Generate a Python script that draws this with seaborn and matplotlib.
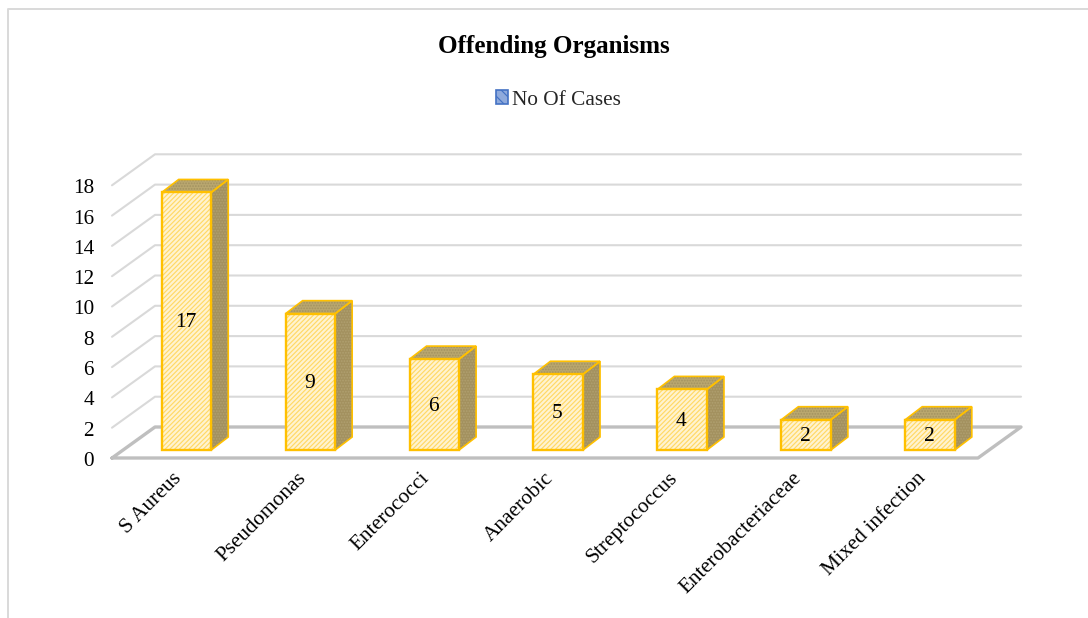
import matplotlib
matplotlib.use("Agg")
import matplotlib.pyplot as plt
from matplotlib.lines import Line2D
from matplotlib.patches import Patch, Polygon, Rectangle
from matplotlib.transforms import Affine2D, IdentityTransform
import pandas as pd
import seaborn as sns

organisms = ["S Aureus", "Pseudomonas", "Enterococci", "Anaerobic",
             "Streptococcus", "Enterobacteriaceae", "Mixed infection"]
cases = [17, 9, 6, 5, 4, 2, 2]
y_ticks = [0, 2, 4, 6, 8, 10, 12, 14, 16, 18]

W, H = 1088, 618
sns.set_theme(style="white")
plt.rcParams["font.family"] = ["Liberation Serif", "DejaVu Serif"]
plt.rcParams["hatch.linewidth"] = 0.85

df = pd.DataFrame({"organism": organisms, "cases": cases})

fig = plt.figure(figsize=(W / 100, H / 100), dpi=100)
# axes box = front face of the bars, everything 3D hangs off it in pixels
ax = fig.add_axes([124.5 / W, (H - 450) / H, 867.5 / W, 272.7 / H])
ax.patch.set_visible(False)

# edge colour here only tints the hatch, the outline comes later
sns.barplot(data=df, x="organism", y="cases", ax=ax, color="#FFF3D0",
            saturation=1, width=0.4, edgecolor="#FFD966", linewidth=0, zorder=3)
ax.set_xlim(-0.5, 6.5)
ax.set_ylim(0, 18)
ax.set_xlabel("")
ax.set_ylabel("")
sns.despine(ax=ax, left=True, bottom=True)

px = IdentityTransform()
grid_col = "#D9D9D9"
floor_col = "#BFBFBF"
gold = "#FFC000"

# walls and floor
for v in y_ticks:
    y = ax.transData.transform((0, v))[1]
    pts = [(112, y - 8), (155, y + 23), (1021, y + 23)]
    if v == 0:
        pts = pts + [(978, y - 8), (112, y - 8)]
    ax.add_line(Line2D([p[0] for p in pts], [p[1] for p in pts], transform=px,
                       color=floor_col if v == 0 else grid_col,
                       lw=2.4 if v == 0 else 1.5, clip_on=False, zorder=1))


def face(pts, fill, speck, hatch):
    ax.add_patch(Polygon(pts, closed=True, transform=px, facecolor=fill, edgecolor=speck,
                         hatch=hatch, lw=0, clip_on=False, zorder=2))
    ax.add_patch(Polygon(pts, closed=True, transform=px, fill=False, edgecolor=gold,
                         lw=1.2, clip_on=False, zorder=2.5))


# side and top of every bar
dx, dy = 17, 13
for bar in ax.containers[0]:
    bar.set_hatch("///////")
    ax.add_patch(Rectangle(bar.get_xy(), bar.get_width(), bar.get_height(), fill=False,
                           edgecolor=gold, lw=1.7, clip_on=False, zorder=4))
    x0, y0 = ax.transData.transform((bar.get_x(), bar.get_y()))
    x1, y1 = ax.transData.transform((bar.get_x() + bar.get_width(), bar.get_height()))
    face([(x1, y0), (x1 + dx, y0 + dy), (x1 + dx, y1 + dy), (x1, y1)], "#A3915F", "#B0A070", "......")
    face([(x0, y1), (x0 + dx, y1 + dy), (x1 + dx, y1 + dy), (x1, y1)], "#B9A76F", "#A39260", "......")

for t in ax.bar_label(ax.containers[0], label_type="center", fontsize=15.5, color="black", zorder=5):
    t.xyann = (-0.7, -1.2)

ax.set_yticks(y_ticks)
ax.tick_params(axis="y", length=0, pad=22, labelsize=15.3, labelcolor="black")
ax.tick_params(axis="x", length=0, pad=13.5, labelsize=15.4, labelcolor="black")
for lab in ax.get_yticklabels():
    lab.set_transform(lab.get_transform() + Affine2D().translate(0, -9))
for lab in ax.get_xticklabels():
    lab.set_rotation(45)
    lab.set_ha("right")
    lab.set_rotation_mode("anchor")
    lab.set_transform(lab.get_transform() + Affine2D().translate(-14, 0))

fig.text(554 / W, 1 - 46 / H, "Offending Organisms", ha="center", va="center",
         fontsize=18.1, fontweight="bold", color="black")

handle = Patch(facecolor="#8FAADC", edgecolor="#4472C4", hatch="\\\\\\", lw=1.2, label="No Of Cases")
fig.legend(handles=[handle], loc="center", bbox_to_anchor=(558 / W, 1 - 100 / H), frameon=False,
           fontsize=15.3, handlelength=0.6, handleheight=0.6, handletextpad=0.15)

# chart border: only top and left show, both run off the picture
fig.add_artist(Line2D([8 / W, 8 / W, 1], [0, 1 - 8.5 / H, 1 - 8.5 / H], transform=fig.transFigure,
                      color=grid_col, lw=1.4))

fig.savefig("out.png", dpi=100)
